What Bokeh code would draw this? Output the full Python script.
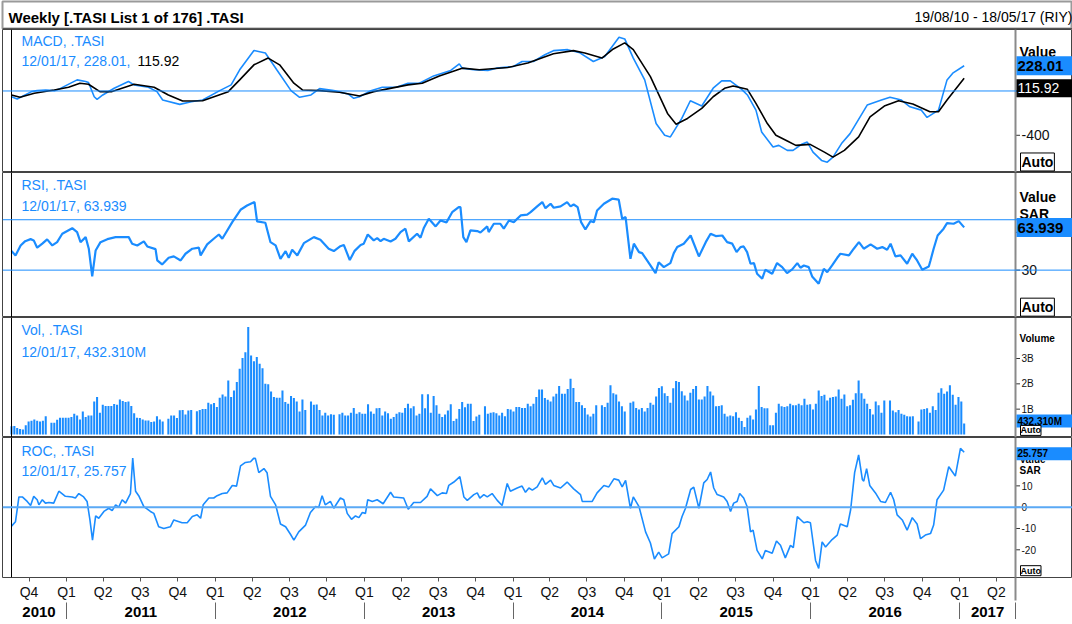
import pandas as pd
from bokeh.plotting import figure
from bokeh.layouts import column
from bokeh.models import Range1d, LinearAxis, FixedTicker, Label, Span
from bokeh.embed import file_html
from bokeh.resources import INLINE
from bokeh.core.properties import value

FONT = "Liberation Sans"
BLUE = "#1a8cff"
START = pd.Timestamp("2010-08-19")
END = pd.Timestamp("2017-05-18")

# ---------------- data (x = weeks since 19/08/10) ----------------
macd_wk = [0, 2, 7, 9, 12, 15, 17, 23, 26, 27, 29, 30, 32, 36, 41, 43, 48, 51, 53, 59, 63, 67, 73, 77, 80, 85, 89, 93, 98,
           101, 105, 108, 113, 118, 120, 122, 126, 130, 135, 139, 143, 148, 154, 157, 158, 162, 167, 170, 176, 179, 183,
           187, 190, 195, 199, 204, 208, 213, 215, 218, 222, 226, 229, 231, 235, 238, 242, 246, 249, 252, 256, 258, 261,
           263, 267, 269, 272, 274, 277, 279, 281, 284, 286, 288, 291, 294, 300, 305, 308, 312, 315, 319, 321, 325, 328,
           330, 334]
macd_val = [-52, -73, -6, 3, 9, 3, 21, 100, 85, 76, -52, -75, -36, 25, 85, 55, 34, -6, -82, -121, -97, -82, 3, 55, 191,
            366, 343, 191, 3, -57, -36, 21, 3, -27, -66, -52, 3, 34, 34, 70, 70, 136, 185, 245, 206, 191, 185, 206, 221,
            266, 266, 327, 364, 373, 348, 266, 312, 485, 470, 297, 100, -294, -400, -415, -248, -88, -136, 25, 91, 91, 15,
            -36, -173, -370, -506, -491, -536, -536, -482, -461, -552, -627, -643, -597, -475, -385, -127, -82, -57, -82,
            -143, -173, -239, -173, 100, 161, 228.01]

signal_wk = [0, 3, 8, 15, 20, 24, 27, 31, 35, 43, 50, 55, 60, 67, 76, 80, 85, 90, 94, 99, 102, 108, 115, 122, 127, 139,
             144, 150, 158, 164, 174, 181, 190, 197, 201, 207, 211, 215, 218, 224, 230, 233, 237, 242, 246, 250, 253, 258,
             261, 265, 268, 272, 275, 280, 285, 288, 292, 297, 301, 306, 311, 316, 322, 325, 328, 334]
signal_val = [-36, -57, -21, 9, 34, 70, 61, -6, -6, 61, 34, -36, -91, -88, -6, 100, 236, 297, 236, 70, 9, 3, -12, -45, -6,
              55, 70, 136, 206, 191, 212, 252, 336, 364, 343, 297, 379, 434, 373, 130, -203, -300, -248, -157, -52, 24,
              45, 15, -112, -294, -400, -452, -491, -482, -552, -597, -536, -415, -234, -136, -88, -118, -188, -188, -82,
              115.92]

rsi_wk = [0, 1.4, 3.2, 4.8, 6.7, 7.8, 9, 10.8, 12.5, 14.3, 16, 17.8, 21.3, 23, 24.2, 26, 27.1, 28.3, 29.5, 31.2, 33.6,
          36.5, 41.1, 42.3, 44.1, 46.4, 47.6, 50.5, 51.1, 52.8, 55.1, 56.9, 59.3, 61, 63.4, 65.7, 66.3, 68.6, 70.9, 72.7,
          73.9, 77.4, 80.3, 82.6, 85.2, 86.1, 89, 90.8, 92.6, 94.3, 96.1, 97.2, 98.4, 100.2, 102.5, 106, 108.3, 111.2,
          113, 115.3, 116.5, 118.6, 120.3, 122.4, 123.5, 124.9, 127, 128.2, 129.4, 130.5, 132.9, 134.6, 136.4, 138.1,
          139.3, 142.2, 143.4, 144.6, 146.3, 148.7, 150.4, 152.5, 154.5, 156.8, 157.4, 158.4, 159.5, 160.9, 163.3, 164.4,
          166.8, 167.3, 169.1, 171.4, 172.6, 174.4, 176.1, 178.5, 180.8, 182, 184.3, 186.1, 187.2, 189, 190.1, 192.5,
          194.8, 196, 197.1, 198.5, 199.7, 201.2, 203, 204.2, 205.3, 207.7, 210.6, 212.9, 214.1, 215.3, 217, 218.2, 220,
          221.1, 224, 225.8, 226.9, 228.7, 231, 232.2, 233.4, 235.7, 238.1, 241, 243.4, 245.1, 246.9, 249.2, 250.9, 252.7,
          254.2, 255.6, 256.7, 257.9, 259.1, 260.3, 261.4, 263.2, 264.3, 266.7, 268.4, 270.2, 271.9, 273.7, 275.5, 276.6,
          277.8, 279.5, 280.7, 283, 284.8, 286, 287.7, 289.5, 290.6, 293.6, 295.3, 297.1, 298.8, 301.2, 303.5, 305.3, 307,
          308.2, 309.9, 311.7, 314, 315.8, 317.5, 319.3, 321.6, 322.2, 323.3, 324.7, 326.8, 328, 330.3, 332.1, 334]
rsi_val = [45.1, 41.7, 49.6, 53.0, 54.6, 53.6, 47.8, 51.0, 54.4, 49.6, 52.2, 58.9, 63.3, 60.2, 52.2, 56.2, 47.0, 25.0,
           45.6, 52.2, 54.6, 56.2, 56.2, 51.0, 49.6, 52.8, 48.8, 46.7, 37.7, 34.5, 39.8, 40.9, 37.7, 43.0, 47.0, 47.8,
           41.7, 50.4, 54.9, 58.3, 54.9, 68.1, 77.9, 81.3, 84.0, 68.7, 67.6, 52.2, 49.6, 39.0, 45.1, 39.8, 46.2, 41.7,
           51.4, 56.2, 54.1, 47.0, 45.1, 49.0, 50.0, 38.0, 45.3, 50.0, 51.0, 58.3, 53.6, 55.4, 53.0, 54.9, 52.8, 54.9,
           60.2, 62.9, 52.8, 58.9, 55.7, 63.7, 70.8, 64.7, 69.4, 67.9, 76.0, 80.0, 80.0, 56.2, 52.2, 61.5, 61.0, 59.9,
           64.7, 60.2, 66.8, 66.8, 62.9, 69.4, 68.1, 73.4, 74.0, 76.0, 80.6, 84.0, 79.2, 82.7, 79.5, 80.6, 84.0, 80.6,
           82.1, 80.0, 68.1, 62.3, 68.9, 68.1, 77.4, 82.7, 86.7, 85.9, 70.8, 72.1, 39.0, 51.0, 44.3, 43.5, 33.7, 27.6,
           36.3, 32.4, 35.6, 43.5, 48.3, 51.0, 57.5, 40.9, 52.2, 58.9, 57.0, 57.5, 52.2, 51.0, 44.3, 48.3, 48.8, 44.3,
           35.1, 35.6, 27.1, 23.2, 30.3, 27.1, 35.6, 32.4, 27.6, 30.6, 35.6, 31.9, 33.7, 32.4, 25.0, 19.2, 31.1, 28.4,
           33.7, 39.8, 43.0, 41.7, 47.0, 52.2, 47.0, 50.4, 47.0, 48.3, 46.2, 51.0, 40.9, 41.7, 35.1, 43.0, 37.7, 30.3,
           32.9, 37.7, 47.0, 57.5, 62.9, 67.3, 66.8, 68.9, 63.939]

roc_wk = [0, 1.4, 2.6, 3.8, 5.5, 6.7, 7.8, 9, 9.6, 10.8, 11.9, 13.1, 14.8, 16.6, 18.9, 21.3, 22.4, 23.6, 25.3, 26.5, 27.5,
          28.4, 29.5, 30.6, 32.4, 34.1, 35.3, 36.5, 37.6, 38.8, 40, 41.7, 42.5, 43.5, 44.6, 46.4, 48.7, 49.9, 51.6, 53.4,
          55.7, 56.9, 59.8, 61.6, 63.4, 65.1, 66.3, 67.2, 69.2, 70.9, 72.1, 73.9, 75.6, 77.4, 78.9, 80.3, 82, 83.8, 84.9,
          85.5, 86.7, 88.5, 89.6, 90.8, 92.6, 94.3, 96.1, 97.8, 99, 100.7, 103.1, 104.8, 106.6, 107.7, 108.9, 110, 111.8,
          113, 115.3, 116.5, 117.7, 119.2, 120.6, 121.8, 123, 124.1, 124.9, 126.5, 128.2, 130.3, 132.9, 134, 137.5, 139.1,
          141, 143.4, 145.7, 146.9, 149.3, 151, 152.5, 153.3, 155.1, 157.2, 158.6, 159.8, 162.1, 163.3, 164.2, 165.6,
          166.8, 168.5, 170.3, 172, 173.8, 174.9, 177.3, 179, 180.2, 181.4, 182.6, 184.3, 186.1, 187.2, 189, 190.1, 192.5,
          194.8, 197.1, 199.5, 200.1, 203.6, 205.3, 207.7, 209.4, 211.2, 212.9, 214.1, 215.3, 217, 218, 220, 222.3, 224,
          225.4, 226.9, 228.1, 230.4, 231.6, 234, 235.1, 236.3, 238.1, 239.2, 241, 242.7, 243.9, 245.1, 246.2, 247.4,
          249.7, 250.9, 252.1, 253.2, 254.4, 255.3, 256.7, 257.9, 259.1, 260, 261.4, 263.2, 264.3, 266.7, 268.2, 269.6,
          271.3, 273.1, 274.1, 275.5, 277.8, 279, 280.1, 281.9, 283, 284.2, 285.4, 287.7, 289.5, 290.6, 293, 294.2, 295.6,
          297, 298.3, 298.8, 299.8, 300.9, 302.9, 304.7, 306.4, 308.2, 309.3, 310.5, 312.3, 314, 315.8, 317.5, 318.7,
          320.4, 322.2, 323.3, 324.5, 326.8, 328.6, 330.9, 332.7, 334]
roc_val = [-8.9, -6.8, 4.8, 4.8, 2.7, 0.8, 5.1, 3.5, 1.1, 3.5, 1.9, 2.2, 1.9, 7.5, 5.1, 4.8, 4.3, 6.4, 4.8, 2.7, -6.0,
           -15.5, -4.1, -5.2, -2.0, -0.5, -1.6, 1.1, 0.0, 3.5, 1.9, 6.4, 23.0, 7.5, 5.4, 0.3, -2.0, -2.9, -9.2, -10.0,
           -9.2, -6.0, -7.3, -7.3, -4.4, -3.6, -5.2, 1.1, 4.3, 4.3, 5.4, 6.4, 6.7, 10.2, 9.9, 19.4, 21.0, 21.3, 22.9,
           22.9, 16.2, 18.1, 16.2, 5.1, 1.1, -7.9, -9.2, -12.7, -15.5, -11.6, -8.4, -2.5, 0.3, -0.1, 5.4, 1.1, 2.7, -0.5,
           4.3, 3.5, -2.9, -5.7, -4.1, -4.9, -2.5, -2.9, 3.5, 2.7, 3.5, 1.6, 7.0, 4.8, 4.3, -1.0, 2.2, 2.2, 5.1, 8.6, 5.4,
           6.7, 6.4, 10.2, 11.8, 14.3, 4.8, 3.2, 5.9, 6.7, 4.3, 5.9, 4.8, 6.4, 3.2, 0.8, 11.1, 7.5, 9.0, 9.9, 7.0, 9.0,
           8.0, 9.5, 13.8, 10.7, 12.7, 10.2, 9.0, 11.8, 8.6, 5.9, 2.7, 2.7, 6.7, 10.2, 9.5, 13.3, 12.7, 9.5, 12.6, -0.5,
           4.8, 0.3, -11.6, -16.8, -24.3, -21.1, -23.8, -21.9, -12.4, -9.2, -4.4, -0.5, 8.3, 9.4, -0.5, 11.4, 13.0, 16.5,
           9.0, 5.9, 4.8, 2.7, -2.0, 1.9, 2.7, 6.4, 4.3, 0.3, -11.6, -10.8, -20.3, -24.3, -20.3, -21.6, -15.9, -17.9,
           -23.8, -17.9, -19.0, -4.4, -7.3, -6.8, -7.3, -25.0, -28.7, -16.3, -18.7, -15.2, -13.1, -7.9, -9.2, -1.2, 16.2,
           24.5, 13.0, 12.2, 18.1, 10.2, 6.7, 2.7, 2.2, 7.0, 3.5, -3.6, -6.0, -10.8, -4.9, -7.9, -14.8, -13.1, -12.4,
           -8.4, 3.5, 8.0, 19.0, 14.6, 27.6, 25.757]

# weekly volume in billions, one value per week from 19/08/10; None = market closed
vol_b = [0.32, 0.33, 0.26, 0.22, 0.20, 0.36, 0.51, 0.54, 0.59, 0.54,
         0.51, 0.54, 0.72, None, 0.46, 0.46, 0.58, 0.66, 0.66, 0.66,
         0.66, 0.69, 0.82, 0.75, 0.59, 0.91, 0.69, 0.75, 0.75, 1.30,
         1.48, 0.86, 1.17, 1.12, 1.12, 1.12, 1.20, 1.17, 1.38, 1.32,
         1.28, 1.30, 1.12, 0.84, 0.66, 0.65, 0.59, 0.55, 0.55, 0.49,
         0.51, 0.72, 0.59, 0.51, None, 0.62, 0.75, 0.75, 0.65, 0.96,
         0.97, 0.79, 0.95, 0.97, None, 0.92, 0.97, 1.01, 1.01, 1.25,
         1.19, 1.24, 1.08, 1.45, 1.58, 1.50, 2.13, 1.48, 1.74, 2.07,
         2.60, 3.02, 3.25, 4.24, 3.12, 2.89, 3.06, 2.79, 2.62, 2.00,
         1.98, 1.70, 1.48, 1.45, 1.45, 1.74, 1.28, 1.21, 1.52, 1.44,
         1.30, 0.91, 1.38, 0.97, None, 1.30, 1.17, 1.18, 0.97, 0.75,
         0.86, 0.75, 0.80, 0.78, None, 0.80, 0.86, 0.75, 0.75, 0.86,
         1.05, 0.82, 0.88, 0.82, 0.82, 1.19, 0.91, 0.82, 1.04, 1.05,
         0.75, 0.91, 0.84, 0.62, 0.69, 0.82, 0.88, 0.86, 1.05, 1.21,
         1.04, 1.11, 0.75, 0.82, 1.59, 1.04, 1.59, 0.86, 1.52, 1.15,
         0.82, 0.69, 0.79, 0.95, 1.19, 0.53, 0.62, 1.01, 1.28, 1.07,
         1.21, 1.21, 0.53, 0.71, 0.78, None, 1.11, 0.82, 0.86, 0.88,
         0.84, 0.75, 0.86, 0.72, 1.01, 0.99, 0.91, 1.08, 1.08, 1.05,
         1.05, 1.21, 1.11, 1.21, 1.48, 1.78, 1.78, 1.44, 1.37, 1.30,
         1.50, 1.61, 1.91, 1.61, 1.61, 1.80, 2.20, 1.84, 1.28, 1.28,
         1.15, 1.05, 0.79, 0.71, 0.82, 1.15, None, 1.15, 1.08, 1.25,
         1.94, 1.63, 1.58, 1.30, 1.11, 0.91, None, 1.25, 1.30, 1.05,
         0.99, 1.05, 0.91, 1.05, 1.25, 1.17, 1.50, 1.84, 1.90, 1.63,
         1.52, 1.25, 1.83, 2.11, 2.07, 1.71, 1.54, 1.34, 1.65, 1.80,
         1.91, 1.38, 1.38, 1.50, 1.91, 1.70, 1.54, 1.11, 1.12, 1.15,
         0.82, 0.71, 0.75, 0.72, 0.88, 0.66, 0.53, 0.29, 0.66, 0.75,
         0.59, 0.99, 1.91, 1.08, 1.04, 1.04, 0.36, 0.36, 0.86, 1.21,
         1.11, 1.08, 1.11, 1.21, 1.15, 1.15, 1.21, 1.15, 1.41, 1.17,
         1.19, 0.99, 1.21, 1.74, 1.52, 1.57, 1.34, 1.45, 1.48, 1.50,
         1.78, 1.41, 1.58, 1.11, 1.15, 1.37, 1.63, 2.13, 1.63, 1.41,
         1.21, 1.01, 0.79, 1.30, 1.15, 0.86, 1.34, None, 1.34, 0.95,
         0.88, 0.97, 0.82, 0.78, 0.72, 0.71, 0.72, None, 0.51, 0.99,
         1.01, 1.04, 0.86, 1.11, 0.97, 1.65, 1.83, 1.61, 1.70, 1.94,
         1.57, 1.17, 1.48, 1.30, 0.43231]

# right-hand scale ticks of each panel
macd_ticks, macd_tick_labels = [-400, 0], ["-400", "0"]
rsi_ticks, rsi_tick_labels = [30, 60], ["30", "60"]
vol_ticks, vol_tick_labels = [1, 2, 3], ["1B", "2B", "3B"]
roc_ticks, roc_tick_labels = [-20, -10, 0, 10], ["-20", "-10", "0", "10"]

# ---------------- geometry helpers ----------------
def wk(d):
    return round((pd.Timestamp(d) - START).days / 7.0, 4)

X_END = wk(END)               # right edge of the chart area
WPP = X_END / 1004.0          # weeks per screen pixel
xr = Range1d(-9 * WPP, X_END + 57 * WPP)

quarters = pd.date_range("2010-10-01", "2017-04-01", freq="QS")
q_pos = [wk(d) for d in quarters]
q_lab = {p: "Q%d" % d.quarter for p, d in zip(q_pos, quarters)}

years = list(range(2010, 2018))
y_bounds = [wk("%d-01-01" % y) for y in range(2011, 2018)]
edges = [0.0] + y_bounds + [X_END]
y_mid = [round((edges[i] + edges[i + 1]) / 2, 4) for i in range(len(years))]
y_lab = {m: str(y) for m, y in zip(y_mid, years)}


def lab(p, x, y, text, size=14, color="#000000", bold=False, xo=0, bg=None, border=None, pad=0):
    kw = dict(x=x, y=y, text=text, x_offset=xo, text_font=FONT, text_font_size="%dpx" % size,
              text_color=color, text_font_style="bold" if bold else "normal",
              text_baseline="middle", text_align="left")
    if bg:
        kw["background_fill_color"] = bg
    if border:
        kw["border_line_color"] = border
    try:
        l = Label(padding=pad, **kw) if pad else Label(**kw)
    except Exception:
        l = Label(**kw)
    p.add_layout(l)


def make_fig(h, yr, ticks, tick_labels, tick_size):
    p = figure(width=1072, height=h, x_range=xr, y_range=Range1d(*yr), output_backend="svg",
               toolbar_location=None, x_axis_location=None, y_axis_location=None,
               min_border_left=2, min_border_right=0, min_border_top=0, min_border_bottom=0)
    p.grid.visible = False
    p.outline_line_color = "#444444"
    p.outline_line_width = 1
    p.background_fill_color = "white"
    p.border_fill_color = "white"
    p.add_layout(Span(location=0, dimension="height", line_color="#000000", line_width=1))
    p.add_layout(Span(location=X_END, dimension="height", line_color="#8a8a8a", line_width=2))
    p.scatter(x=[X_END + 2.5 * WPP] * len(ticks), y=ticks, marker="dash", size=4, line_color="#333333",
              line_width=1)
    p.text(x=[X_END] * len(ticks), y=ticks, text=tick_labels, x_offset=6, text_font=value(FONT),
           text_font_size="%dpx" % tick_size, text_baseline="middle", text_align="left", text_color="#111111")
    return p


# ---------------- title bar ----------------
pt = figure(width=1072, height=29, x_range=Range1d(0, 1), y_range=Range1d(0, 1), output_backend="svg",
            toolbar_location=None, x_axis_location=None, y_axis_location=None,
            min_border_left=2, min_border_right=0, min_border_top=1, min_border_bottom=0)
pt.grid.visible = False
pt.outline_line_color = "#9a9a9a"
pt.outline_line_width = 2
pt.text(x=[0.0], y=[0.42], text=["Weekly [.TASI List 1 of 176] .TASI"], text_font=value(FONT),
        text_font_size="15px", text_font_style="bold", text_baseline="middle", text_align="left",
        text_color="#000000", x_offset=6)
pt.text(x=[1.0], y=[0.43], text=["19/08/10 - 18/05/17 (RIY)"], text_font=value(FONT),
        text_font_size="14px", text_baseline="middle", text_align="right", text_color="#000000", x_offset=0)
pt.add_layout(Span(location=0.02, dimension="width", line_color="#555555", line_width=2))

# ---------------- MACD ----------------
p1 = make_fig(143, (-736, 555), macd_ticks, macd_tick_labels, 14)
p1.add_layout(Span(location=0, dimension="width", line_color=BLUE, line_width=1))
p1.line(macd_wk, macd_val, line_color=BLUE, line_width=1.6)
p1.line(signal_wk, signal_val, line_color="#000000", line_width=1.6)
lab(p1, 0, 455, "MACD, .TASI", color=BLUE, xo=10)
lab(p1, 0, 273, "12/01/17, 228.01,", color=BLUE, xo=10)
lab(p1, 0, 273, "115.92", color="#000000", xo=126)
lab(p1, X_END, 355, "Value", bold=True, xo=4)
lab(p1, X_END, 228.01, "228.01     ", size=15, bold=True, bg=BLUE, xo=1, pad=1)
lab(p1, X_END, 25, "115.92        ", color="#ffffff", bg="#000000", xo=1, pad=1)
lab(p1, X_END, -641, "Auto", bold=True, bg="#ffffff", border="#000000", xo=5, pad=1)

# ---------------- RSI ----------------
p2 = make_fig(145, (-7.6, 107.5), rsi_ticks, rsi_tick_labels, 14)
for lvl in (30, 70):
    p2.add_layout(Span(location=lvl, dimension="width", line_color=BLUE, line_width=1))
p2.line(rsi_wk, rsi_val, line_color=BLUE, line_width=2.2)
lab(p2, 0, 97.2, "RSI, .TASI", color=BLUE, xo=10)
lab(p2, 0, 81.3, "12/01/17, 63.939", color=BLUE, xo=10)
lab(p2, X_END, 87.7, "Value", bold=True, xo=4)
lab(p2, X_END, 74.2, "SAR", bold=True, xo=4)
lab(p2, X_END, 63.939, "63.939     ", size=15, bold=True, bg=BLUE, xo=1, pad=1)
lab(p2, X_END, 0.6, "Auto", bold=True, bg="#ffffff", border="#000000", xo=5, pad=1)

# ---------------- Volume ----------------
p3 = make_fig(120, (-0.12, 4.62), vol_ticks, vol_tick_labels, 10)
vx = [i for i, v in enumerate(vol_b) if v is not None]
vy = [v for v in vol_b if v is not None]
p3.vbar(x=vx, top=vy, bottom=0, width=0.72, fill_color=BLUE, line_color=None)
lab(p3, 0, 4.11, "Vol, .TASI", color=BLUE, xo=10)
lab(p3, 0, 3.24, "12/01/17, 432.310M", color=BLUE, xo=10)
lab(p3, X_END, 3.79, "Volume", size=10, bold=True, xo=4)
lab(p3, X_END, 0.53, "432.310M          ", size=10, bold=True, bg=BLUE, xo=1, pad=1)
lab(p3, X_END, 0.16, "Auto", size=9, bold=True, bg="#ffffff", border="#000000", xo=5, pad=0)

# ---------------- ROC ----------------
p4 = make_fig(182, (-33.0, 32.7), roc_ticks, roc_tick_labels, 10)
p4.add_layout(Span(location=0, dimension="width", line_color="#5aa9f5", line_width=2))
p4.line(roc_wk, roc_val, line_color=BLUE, line_width=1.6)
lab(p4, 0, 26.5, "ROC, .TASI", color=BLUE, xo=10)
lab(p4, 0, 17, "12/01/17, 25.757", color=BLUE, xo=10)
lab(p4, X_END, 22.2, "Value", size=10, bold=True, xo=4)
lab(p4, X_END, 17.2, "SAR", size=10, bold=True, xo=4)
lab(p4, X_END, 25.1, "25.757                  ", size=10, bold=True, bg=BLUE, xo=1, pad=1)
lab(p4, X_END, -29.8, "Auto", size=9, bold=True, bg="#ffffff", border="#000000", xo=5, pad=0)

qax = LinearAxis(ticker=FixedTicker(ticks=q_pos, minor_ticks=[X_END]), major_label_overrides=q_lab)
qax.axis_line_color = None
qax.major_tick_out = 4
qax.major_tick_in = 0
qax.major_tick_line_color = "#555555"
qax.minor_tick_out = 23
qax.minor_tick_in = 0
qax.minor_tick_line_color = "#8a8a8a"
qax.minor_tick_line_width = 2
qax.major_label_standoff = -17
qax.major_label_text_font = FONT
qax.major_label_text_font_size = "14px"
qax.major_label_text_color = "#111111"
p4.add_layout(qax, "below")

yax = LinearAxis(ticker=FixedTicker(ticks=y_mid, minor_ticks=y_bounds + [X_END]), major_label_overrides=y_lab)
yax.axis_line_color = None
yax.major_tick_out = 0
yax.major_tick_in = 0
yax.major_tick_line_color = None
yax.minor_tick_out = 21
yax.minor_tick_in = 0
yax.minor_tick_line_color = "#666666"
yax.major_label_standoff = -17
yax.major_label_text_font = FONT
yax.major_label_text_font_size = "15px"
yax.major_label_text_font_style = "bold"
yax.major_label_text_color = "#000000"
p4.add_layout(yax, "below")

layout = column(pt, p1, p2, p3, p4, spacing=0)
open("out.html", "w").write(file_html(layout, INLINE))
